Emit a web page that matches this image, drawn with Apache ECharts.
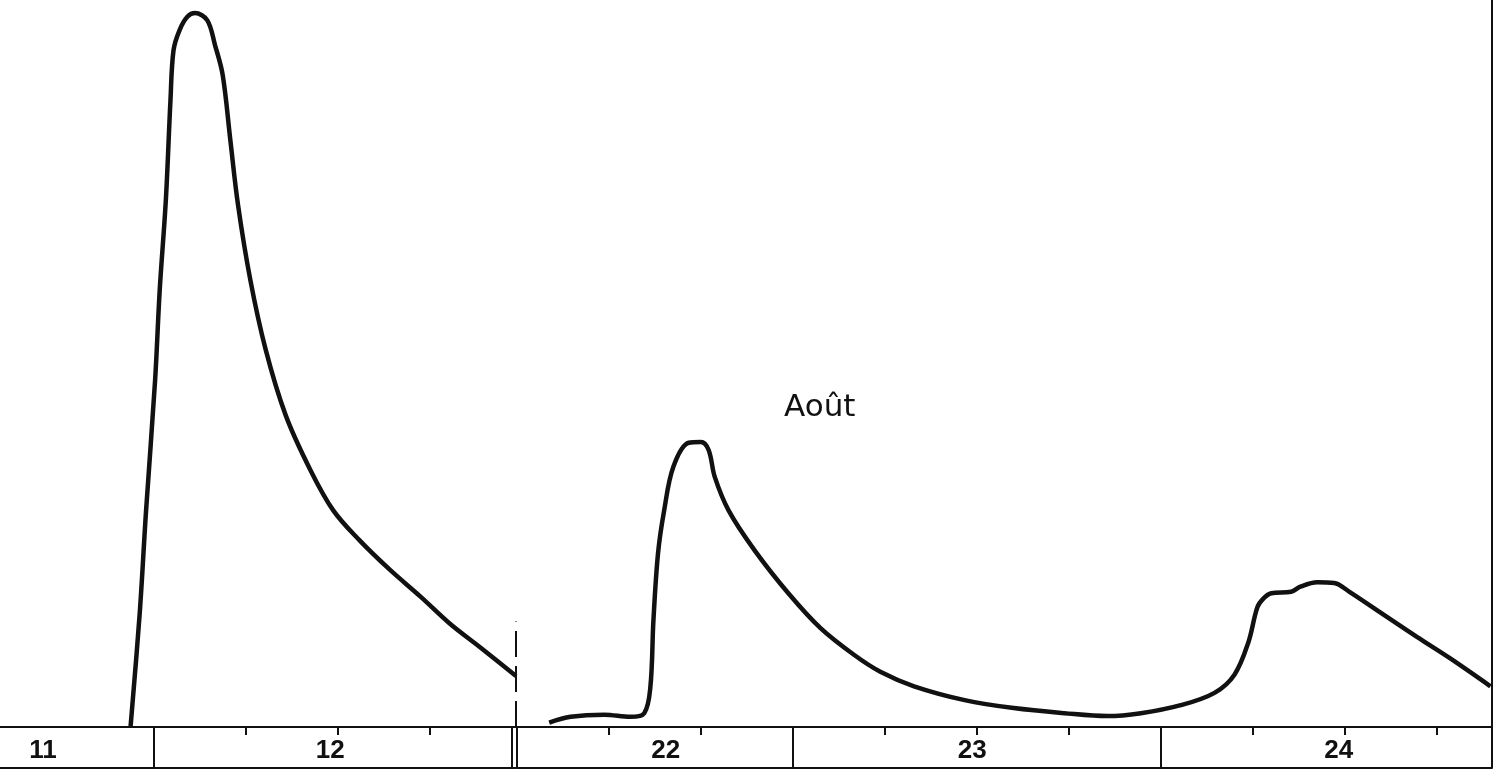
<!DOCTYPE html>
<html>
<head>
<meta charset="utf-8">
<script src="https://cdn.jsdelivr.net/npm/echarts@6/dist/echarts.min.js"></script>
<style>
  html, body { margin: 0; padding: 0; background: #fff; }
  #chart { width: 1496px; height: 772px; }
</style>
</head>
<body>
<div id="chart"></div>
<script>
// first flood, hours counted from 11 Aug 00h
var crue1Heures = [22.5, 23.1, 23.5, 24.1, 24.4, 24.8, 25.1, 25.3, 25.7, 26.2, 26.7, 27.5, 28.0, 28.5, 29.0,
  29.5, 30.3, 31.3, 32.6, 34.2, 35.7, 37.4, 39.4, 41.4, 43.3, 45.3, 47.6];
var crue1Debit = [0, 15.7, 29.4, 47.7, 60.1, 72.5, 86.2, 93.1, 95.9, 97.7, 98.2, 97.2, 93.8, 89.7, 80.7,
  71.8, 61.5, 51.9, 42.9, 35.4, 29.8, 25.7, 21.6, 17.9, 14.2, 10.9, 7.0];

// second part, hours counted from 22 Aug 00h
var crue2Heures = [8.1, 9.5, 11.7, 13.4, 14.3, 14.7, 14.9, 15.2, 15.6, 16.2, 17.2, 18.0, 18.5, 18.9, 19.8,
  21.5, 23.7, 25.8, 28.0, 29.7, 31.9, 35.2, 38.4, 41.7, 44.5, 46.7, 49.3, 51.5, 52.8, 53.7, 54.3,
  54.7, 55.2, 56.5, 57.1, 58.2, 59.3, 60.3, 62.5, 64.7, 66.9, 69.5];
var crue2Debit = [0.6, 1.4, 1.7, 1.4, 1.9, 5.5, 14.7, 23.9, 29.8, 35.8, 39.1, 39.2, 38.1, 34.4, 29.8,
  24.3, 18.4, 13.6, 9.9, 7.6, 5.6, 3.7, 2.6, 1.9, 1.5, 1.9, 3.0, 4.7, 7.2, 11.6, 16.5,
  17.7, 18.4, 18.6, 19.3, 19.9, 19.8, 18.6, 15.5, 12.4, 9.4, 5.6];

var jours1 = ['11', '12'];
var jours2 = ['22', '23', '24'];
var labelPos1 = [16.8, 35.5];
var labelPos2 = [15.7, 35.7, 59.6];
var ticks1 = [30, 36, 42];
var ticks2 = [12, 18, 30, 36, 42, 54, 60, 66];
var limites1 = [24, 47.34];
var limites2 = [6, 24, 48, 69.6];
var coupure = 47.6;

var zip = function (xs, ys) { return xs.map(function (x, i) { return [x, ys[i]]; }); };
var noir = '#111';

function axeJours(grid, min, max, ticks, labels, noms) {
  return {
    type: 'value', gridIndex: grid, position: 'bottom', min: min, max: max,
    splitLine: { show: false },
    axisLine: { show: true, lineStyle: { color: noir, width: 2 } },
    axisTick: { show: true, customValues: ticks, length: 8, lineStyle: { color: noir, width: 2 } },
    axisLabel: {
      show: true, customValues: labels, margin: 11,
      fontFamily: 'Liberation Sans', fontWeight: 'bold', fontSize: 26, color: noir,
      formatter: function (v) { return noms[Math.floor(v / 24)]; }
    }
  };
}
function axeLimites(grid, min, max, vals) {
  return {
    type: 'value', gridIndex: grid, position: 'bottom', min: min, max: max,
    splitLine: { show: false }, axisLine: { show: false }, axisLabel: { show: false },
    axisTick: { show: true, customValues: vals, length: 41, lineStyle: { color: noir, width: 2 } }
  };
}
function axeBas(grid, min, max) {
  return {
    type: 'value', gridIndex: grid, position: 'bottom', min: min, max: max, offset: 41,
    splitLine: { show: false }, axisTick: { show: false }, axisLabel: { show: false },
    axisLine: { show: true, lineStyle: { color: noir, width: 2 } }
  };
}

var chart = echarts.init(document.getElementById('chart'));
var option = {
  animation: false,
  backgroundColor: '#fff',
  grid: [
    { left: 0, top: 0, width: 516, height: 727 },
    { left: 517, top: 0, width: 975, height: 727 }
  ],
  xAxis: [
    axeJours(0, 14, 47.6, ticks1, labelPos1, jours1),
    axeJours(1, 6, 69.6, ticks2, labelPos2, jours2),
    axeLimites(0, 14, 47.6, limites1),
    axeLimites(1, 6, 69.6, limites2),
    axeBas(0, 14, 47.6),
    axeBas(1, 6, 69.6)
  ],
  yAxis: [
    { type: 'value', gridIndex: 0, min: 0, max: 100, show: false },
    { type: 'value', gridIndex: 1, min: 0, max: 100, position: 'right',
      splitLine: { show: false }, axisTick: { show: false }, axisLabel: { show: false },
      axisLine: { show: true, lineStyle: { color: noir, width: 2 } } }
  ],
  series: [
    {
      type: 'line', xAxisIndex: 0, yAxisIndex: 0, data: zip(crue1Heures, crue1Debit),
      smooth: 0.35, showSymbol: false, lineStyle: { color: noir, width: 4.5 },
      markLine: {
        symbol: 'none', silent: true, label: { show: false },
        lineStyle: { color: noir, width: 2, type: [26, 9] },
        data: [[{ coord: [coupure, 0] }, { coord: [coupure, 14.5] }]]
      }
    },
    {
      type: 'line', xAxisIndex: 1, yAxisIndex: 1, data: zip(crue2Heures, crue2Debit),
      smooth: 0.35, showSymbol: false, lineStyle: { color: noir, width: 4.5 }
    }
  ],
  graphic: [
    { type: 'text', left: 784, top: 392,
      style: { text: 'Août', fontFamily: 'DejaVu Sans', fontSize: 31, fill: noir } }
  ]
};
chart.setOption(option);
</script>
</body>
</html>
